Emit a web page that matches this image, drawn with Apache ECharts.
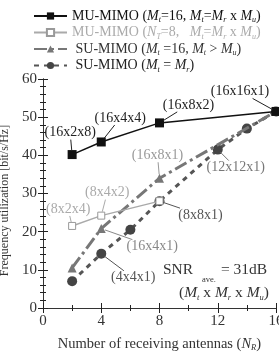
<!DOCTYPE html>
<html><head><meta charset="utf-8">
<script src="https://cdn.jsdelivr.net/npm/echarts@6/dist/echarts.min.js"></script>
<style>html,body{margin:0;padding:0;background:#fff}#c{width:279px;height:354px}</style>
</head><body><div id="c"></div>
<script>
// ---- data ----
var muX = [2, 4, 8, 16];
var muY = [40.2, 43.5, 48.5, 51.5];
var muLabels = ['(16x2x8)', '(16x4x4)', '(16x8x2)', '(16x16x1)'];

var mu8X = [2, 4, 8];
var mu8Y = [21.5, 24.2, 28];
var mu8Labels = ['(8x2x4)', '(8x4x2)', ''];

var suX = [2, 4, 8, 16];
var suY = [10.5, 20.8, 34, 51.5];
var suLabels = ['', '(16x4x1)', '(16x8x1)', ''];

var sueX = [2, 4, 6, 8, 12, 14, 16];
var sueY = [7.0, 14.2, 20.5, 28, 41.5, 47, 51.5];
var sueLabels = ['', '(4x4x1)', '', '(8x8x1)', '(12x12x1)', '', ''];

var xTicks = [0, 4, 8, 12, 16];
var yTicks = [0, 10, 20, 30, 40, 50, 60];

var seriesNames = ['MU-MIMO 16', 'MU-MIMO 8', 'SU-MIMO 16', 'SU-MIMO eq'];

// ---- layout / style (label offsets in px, colours) ----
var muOff = [[-2, -22], [19, -24], [29, -18], [-36, -20]];
var mu8Off = [[-4, -17], [6, -23], [0, 0]];
var suOff = [[0, 0], [51, 18], [-2, -23], [0, 0]];
var sueOff = [[0, 0], [32, 24], [0, 0], [41, 14], [18, 18], [0, 0], [0, 0]];
var muLabCol = ['#222', '#222', '#222', '#222'];
var mu8LabCol = ['#aaa', '#aaa', ''];
var suLabCol = ['', '#888', '#999', ''];
var sueLabCol = ['', '#555', '', '#555', '#777', '', ''];

var FONT = 'Liberation Serif';

function pts(xs, ys) { return xs.map(function (x, i) { return [x, ys[i]]; }); }

// collect annotations
var annots = [];
function addAnnots(xs, ys, labels, offs, cols) {
  labels.forEach(function (t, i) {
    if (t) annots.push({ x: xs[i], y: ys[i], text: t, dx: offs[i][0], dy: offs[i][1], color: cols[i] });
  });
}
addAnnots(muX, muY, muLabels, muOff, muLabCol);
addAnnots(mu8X, mu8Y, mu8Labels, mu8Off, mu8LabCol);
addAnnots(suX, suY, suLabels, suOff, suLabCol);
addAnnots(sueX, sueY, sueLabels, sueOff, sueLabCol);

function textW(t) { return t.length * 6.6; }

var rich = function (c) {
  return {
    n: { fontFamily: FONT, fontSize: 14, color: c, lineHeight: 16 },
    i: { fontFamily: FONT, fontSize: 14, color: c, fontStyle: 'italic', lineHeight: 16 },
    s: { fontFamily: FONT, fontSize: 8, color: c, fontStyle: 'italic', lineHeight: 8, verticalAlign: 'bottom' }
  };
};
var legendText = {
  'MU-MIMO 16': '{n|MU-MIMO (}{i|M}{s|t}{n|=16, }{i|M}{s|t}{n|=}{i|M}{s|r}{n| x }{i|M}{s|u}{n|)}',
  'MU-MIMO 8': '{n|MU-MIMO (}{i|N}{s|T}{n|=8,   }{i|M}{s|t}{n|=}{i|M}{s|r}{n| x }{i|M}{s|u}{n|)}',
  'SU-MIMO 16': '{n| SU-MIMO (}{i|M}{s|t}{n| =16, }{i|M}{s|t}{n| > }{i|M}{s|u}{n|)}',
  'SU-MIMO eq': '{n| SU-MIMO (}{i|M}{s|t}{n| = }{i|M}{s|r}{n|)}'
};
var legendColors = ['#111', '#aaa', '#333', '#222'];

var tickStyle = { color: '#222' };
var subRich = {
  n: { fontFamily: FONT, fontSize: 15.5, fill: '#333', lineHeight: 18 },
  i: { fontFamily: FONT, fontSize: 15.5, fill: '#333', fontStyle: 'italic', lineHeight: 18 },
  s: { fontFamily: FONT, fontSize: 8.5, fill: '#333', fontStyle: 'italic', lineHeight: 8, verticalAlign: 'bottom' }
};

var staticGraphics = [{
  type: 'group', left: 163, top: 262,
  children: [
    { type: 'text', x: 0, y: 0, style: { text: 'SNR', font: '15.5px ' + FONT, fill: '#333' } },
    { type: 'text', x: 39, y: 13, style: { text: 'ave.', font: '8.5px ' + FONT, fill: '#333' } },
    { type: 'text', x: 58, y: 0, style: { text: '= 31dB', font: '15.5px ' + FONT, fill: '#333' } }
  ]
}, {
  type: 'text', right: 10, top: 285,
  style: { text: '{n|(}{i|M}{s|t}{n| x }{i|M}{s|r}{n| x }{i|M}{s|u}{n|)}', rich: subRich }
}];

var baseSeries = [{
  name: seriesNames[3], type: 'line', z: 2,
  data: pts(sueX, sueY),
  symbol: 'circle', symbolSize: 10,
  itemStyle: { color: '#444' },
  lineStyle: { color: '#555', width: 3, type: [5, 5] }
}, {
  name: seriesNames[2], type: 'line', z: 3,
  data: pts(suX, suY),
  symbol: 'triangle', symbolSize: 9,
  itemStyle: { color: '#777' },
  lineStyle: { color: '#777', width: 3, type: [13, 4, 3, 4] }
}, {
  name: seriesNames[1], type: 'line', z: 4,
  data: pts(mu8X, mu8Y),
  symbol: 'rect', symbolSize: 7,
  itemStyle: { color: '#fff', borderColor: '#999', borderWidth: 1 },
  lineStyle: { color: '#aaa', width: 1.5 }
}, {
  name: seriesNames[0], type: 'line', z: 5,
  data: pts(muX, muY),
  symbol: 'rect', symbolSize: 9,
  itemStyle: { color: '#111' },
  lineStyle: { color: '#111', width: 1.5 }
}];

var chart = echarts.init(document.getElementById('c'), null, { renderer: 'canvas' });
chart.setOption({
  animation: false,
  backgroundColor: '#fff',
  textStyle: { fontFamily: FONT },
  legend: {
    orient: 'vertical', left: 33, top: 9, padding: 0, itemGap: 1.5, itemWidth: 33, itemHeight: 9,
    data: seriesNames.map(function (n, i) {
      return { name: n, textStyle: { color: legendColors[i], rich: rich(legendColors[i]) } };
    }),
    formatter: function (n) { return legendText[n]; },
    textStyle: { fontFamily: FONT, fontSize: 14 }
  },
  grid: { left: 43, right: 3, top: 79, bottom: 46, containLabel: false, outerBoundsMode: 'none' },
  xAxis: [{
    type: 'value', min: 0, max: 16, interval: 4,
    axisLine: { lineStyle: { color: '#222', width: 1 } },
    axisTick: { inside: true, length: 5, lineStyle: tickStyle },
    minorTick: { show: true, splitNumber: 2, length: 3, lineStyle: tickStyle },
    splitLine: { show: false },
    axisLabel: { fontFamily: FONT, fontSize: 15, color: '#333', margin: 6,
      formatter: function (v) { return xTicks.indexOf(v) >= 0 ? String(v) : ''; } },
    name: '{n|Number of receiving antennas (}{i|N}{s|R}{n|)}',
    nameLocation: 'middle', nameGap: 28,
    nameTextStyle: { rich: {
      n: { fontFamily: FONT, fontSize: 14.5, color: '#333', lineHeight: 16 },
      i: { fontFamily: FONT, fontSize: 14.5, color: '#333', fontStyle: 'italic', lineHeight: 16 },
      s: { fontFamily: FONT, fontSize: 8.5, color: '#333', fontStyle: 'italic', lineHeight: 8, verticalAlign: 'bottom' } } }
  }, {
    type: 'value', min: 0, max: 16, interval: 4, position: 'top',
    axisLine: { show: true, lineStyle: { color: '#333', width: 1 } },
    axisTick: { inside: true, length: 5, lineStyle: tickStyle },
    minorTick: { show: true, splitNumber: 2, length: 3, lineStyle: tickStyle },
    splitLine: { show: false }, axisLabel: { show: false }
  }],
  yAxis: [{
    type: 'value', min: 0, max: 60, interval: 10,
    axisLine: { show: true, lineStyle: { color: '#222', width: 1 } },
    axisTick: { show: true, inside: true, length: 5, lineStyle: tickStyle },
    minorTick: { show: true, splitNumber: 5, length: 3, lineStyle: tickStyle },
    splitLine: { show: false },
    axisLabel: { fontFamily: FONT, fontSize: 15, color: '#333', margin: 6,
      formatter: function (v) { return yTicks.indexOf(v) >= 0 ? String(v) : ''; } },
    name: 'Frequency utilization [bit/s/Hz]', nameLocation: 'middle', nameGap: 23,
    nameTextStyle: { fontFamily: FONT, fontSize: 12, color: '#333', padding: [0, 14, 0, 0] }
  }, {
    type: 'value', min: 0, max: 60, interval: 10, position: 'right',
    axisLine: { show: true, lineStyle: { color: '#333', width: 1 } },
    axisTick: { show: true, inside: true, length: 5, lineStyle: tickStyle },
    minorTick: { show: true, splitNumber: 5, length: 3, lineStyle: tickStyle },
    splitLine: { show: false }, axisLabel: { show: false }
  }],
  series: baseSeries,
  graphic: staticGraphics
});

// annotation labels + leader lines, positioned through the chart's own scales
var annGraphics = [];
var leaderSeries = [];
annots.forEach(function (a) {
  var p = chart.convertToPixel({ gridIndex: 0 }, [a.x, a.y]);
  var cx = p[0] + a.dx, cy = p[1] + a.dy;
  var hw = textW(a.text) / 2 + 1, hh = 7;
  var vx = p[0] - cx, vy = p[1] - cy;
  var tx = Math.abs(vx) > 0.01 ? hw / Math.abs(vx) : 99;
  var ty = Math.abs(vy) > 0.01 ? hh / Math.abs(vy) : 99;
  var t = Math.min(tx, ty);
  var len = Math.sqrt(vx * vx + vy * vy);
  var r = 4;
  var d1 = chart.convertFromPixel({ gridIndex: 0 }, [cx + vx * t, cy + vy * t]);
  var d2 = chart.convertFromPixel({ gridIndex: 0 }, [p[0] - vx / len * r, p[1] - vy / len * r]);
  leaderSeries.push({
    type: 'line', z: 6, silent: true, symbol: 'none', showSymbol: false,
    data: [d1, d2],
    lineStyle: { color: a.color, width: 1, type: 'solid' },
    itemStyle: { color: a.color },
    tooltip: { show: false }
  });
  annGraphics.push({
    type: 'text', z: 100, x: cx, y: cy,
    style: { text: a.text, fill: a.color, font: '14px ' + FONT, align: 'center', verticalAlign: 'middle' }
  });
});
chart.setOption({ series: baseSeries.concat(leaderSeries), graphic: staticGraphics.concat(annGraphics) },
  { replaceMerge: ['graphic'] });
</script></body></html>
